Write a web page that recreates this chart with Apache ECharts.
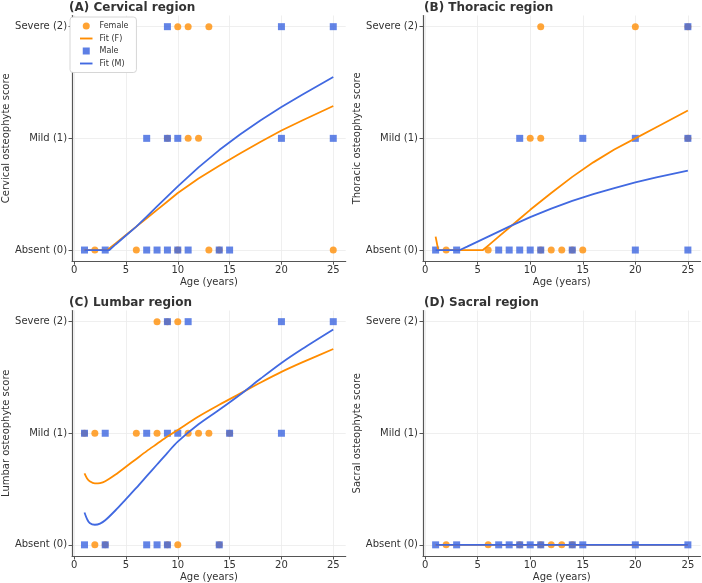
<!DOCTYPE html>
<html>
<head>
<meta charset="utf-8">
<script src="https://cdn.jsdelivr.net/npm/echarts@6/dist/echarts.min.js"></script>
<style>
html,body{margin:0;padding:0;background:#fff;}
#chart{width:702px;height:583px;}
</style>
</head>
<body>
<div id="chart"></div>
<script>
// tick labels
var xTicks=[0,5,10,15,20,25];
var yTicks=[0,1,2];
var yTickLabels=['Absent (0)','Mild (1)','Severe (2)'];
var panelTitles=['(A) Cervical region','(B) Thoracic region','(C) Lumbar region','(D) Sacral region'];
var yNames=['Cervical osteophyte score','Thoracic osteophyte score','Lumbar osteophyte score','Sacral osteophyte score'];

// observed scores [age, score]
var cervF=[[10,2],[11,2],[13,2],[11,1],[12,1],[9,1],[2,0],[6,0],[13,0],[25,0],[10,0],[14,0]];
var cervM=[[9,2],[20,2],[25,2],[7,1],[9,1],[10,1],[20,1],[25,1],[1,0],[3,0],[7,0],[8,0],[9,0],[10,0],[11,0],[14,0],[15,0]];
var thorF=[[11,2],[20,2],[25,2],[10,1],[11,1],[25,1],[2,0],[6,0],[11,0],[12,0],[13,0],[14,0],[15,0]];
var thorM=[[25,2],[9,1],[15,1],[20,1],[25,1],[1,0],[3,0],[7,0],[8,0],[9,0],[10,0],[11,0],[14,0],[20,0],[25,0]];
var lumbF=[[8,2],[10,2],[9,2],[1,1],[2,1],[6,1],[8,1],[11,1],[12,1],[13,1],[15,1],[2,0],[3,0],[9,0],[10,0],[14,0]];
var lumbM=[[9,2],[11,2],[20,2],[25,2],[1,1],[3,1],[7,1],[9,1],[10,1],[15,1],[20,1],[1,0],[3,0],[7,0],[8,0],[9,0],[14,0]];
var sacrF=[[2,0],[6,0],[9,0],[11,0],[12,0],[13,0],[14,0]];
var sacrM=[[1,0],[3,0],[7,0],[8,0],[9,0],[10,0],[11,0],[14,0],[15,0],[20,0],[25,0]];

// fitted curves
var cervFitFAge=[1,2,3,3.2,4,5,6,7,8,9,10,12,14,16,18,20,22,25];
var cervFitF=[0,0,0,0,0.06,0.135,0.21,0.285,0.36,0.435,0.51,0.64,0.755,0.865,0.97,1.07,1.16,1.29];
var cervFitMAge=[1,2,3,3.4,4,5,6,7,8,9,10,12,14,16,18,20,22,25];
var cervFitM=[0,0,0,0,0.05,0.13,0.21,0.3,0.39,0.48,0.57,0.74,0.895,1.035,1.163,1.28,1.39,1.55];
var thorFitFAge=[1,1.25,2,3,4,5,5.5,6,7,8,9,10,12,14,16,18,20,22,25];
var thorFitF=[0.12,0,0,0,0,0,0,0.04,0.12,0.2,0.28,0.36,0.51,0.655,0.785,0.9,1.0,1.1,1.25];
var thorFitMAge=[1,2,3,3.3,4,5,6,8,10,12,14,16,18,20,22,25];
var thorFitM=[0,0,0,0,0.03,0.075,0.12,0.21,0.295,0.37,0.44,0.5,0.555,0.605,0.65,0.71];
var lumbFitAge=[1,1.25,1.5,2,2.5,3,4,5,6,7,8,9,10,12,14,16,18,20,22,25];
var lumbFitF=[0.64,0.595,0.57,0.55,0.553,0.57,0.63,0.7,0.77,0.84,0.905,0.97,1.03,1.15,1.255,1.355,1.455,1.55,1.635,1.755];
var lumbFitM=[0.29,0.23,0.195,0.18,0.19,0.22,0.31,0.41,0.51,0.615,0.72,0.825,0.925,1.08,1.21,1.345,1.49,1.63,1.755,1.93];
var sacrFitAge=[1,25];
var sacrFitF=[0,0];
var sacrFitM=[0,0];

var ORANGE='#FF8C00', BLUE='#4169E1';
var FONT='DejaVu Sans';

function pairs(ages,vals){
	var out=[];
	for(var i=0;i<ages.length;i++) out.push([ages[i],vals[i]]);
	return out;
}

var grids=[
	{left:68,top:15.5,width:277.7,height:245.7},
	{left:423,top:15.5,width:277.5,height:245.7},
	{left:68,top:310.5,width:277.7,height:245.7},
	{left:423,top:310.5,width:277.5,height:245.7}
];
var panels=[
	{f:cervF,m:cervM,ff:pairs(cervFitFAge,cervFitF),fm:pairs(cervFitMAge,cervFitM),smooth:false},
	{f:thorF,m:thorM,ff:pairs(thorFitFAge,thorFitF),fm:pairs(thorFitMAge,thorFitM),smooth:false},
	{f:lumbF,m:lumbM,ff:pairs(lumbFitAge,lumbFitF),fm:pairs(lumbFitAge,lumbFitM),smooth:0.3},
	{f:sacrF,m:sacrM,ff:pairs(sacrFitAge,sacrFitF),fm:pairs(sacrFitAge,sacrFitM),smooth:false}
];

var xAxes=[],yAxes=[],series=[],titles=[];
for(var i=0;i<4;i++){
	titles.push({text:panelTitles[i],left:grids[i].left+1,top:grids[i].top-14,padding:0,
		textStyle:{fontFamily:FONT,fontSize:12,fontWeight:'bold',color:'#333'}});
	xAxes.push({
		gridIndex:i,type:'value',min:-0.2,max:26.2,
		name:'Age (years)',nameLocation:'middle',nameGap:16,
		nameTextStyle:{fontFamily:FONT,fontSize:10,color:'#333'},
		axisLine:{show:true,onZero:false,lineStyle:{color:'#555',width:1.2}},
		axisTick:{show:true,length:3.5,customValues:xTicks,lineStyle:{color:'#555'}},
		axisLabel:{customValues:xTicks,fontFamily:FONT,fontSize:10,color:'#333',margin:4},
		splitLine:{show:true,lineStyle:{color:'#ebebeb',width:0.8}}
	});
	yAxes.push({
		gridIndex:i,type:'value',min:-0.1,max:2.1,
		name:yNames[i],nameLocation:'middle',nameGap:57,
		nameTextStyle:{fontFamily:FONT,fontSize:10,color:'#333'},
		axisLine:{show:true,onZero:false,lineStyle:{color:'#555',width:1.2}},
		axisTick:{show:true,length:3.5,customValues:yTicks,lineStyle:{color:'#555'}},
		axisLabel:{customValues:yTicks,fontFamily:FONT,fontSize:10,color:'#333',margin:5,
			formatter:function(v){return yTickLabels[Math.round(v)];}},
		splitLine:{show:true,lineStyle:{color:'#ebebeb',width:0.8}}
	});
	var p=panels[i];
	series.push({name:'Female',type:'scatter',xAxisIndex:i,yAxisIndex:i,data:p.f,symbol:'circle',symbolSize:7,z:2,
		itemStyle:{color:ORANGE,opacity:0.78}});
	series.push({name:'Fit (F)',type:'line',xAxisIndex:i,yAxisIndex:i,data:p.ff,symbol:'none',smooth:p.smooth,z:4,
		lineStyle:{color:ORANGE,width:1.8},itemStyle:{color:ORANGE}});
	series.push({name:'Male',type:'scatter',xAxisIndex:i,yAxisIndex:i,data:p.m,symbol:'rect',symbolSize:7,z:3,
		itemStyle:{color:BLUE,opacity:0.82}});
	series.push({name:'Fit (M)',type:'line',xAxisIndex:i,yAxisIndex:i,data:p.fm,symbol:'none',smooth:p.smooth,z:5,
		lineStyle:{color:BLUE,width:1.8},itemStyle:{color:BLUE}});
}

var lineIcon='path://M0,0L12,0L12,1.8L0,1.8Z';
var squareIcon='path://M0,0L6,0L6,6L0,6Z';

var chart=echarts.init(document.getElementById('chart'),null,{renderer:'canvas'});
chart.setOption({
	animation:false,
	backgroundColor:'#fff',
	title:titles,
	grid:grids,
	xAxis:xAxes,
	yAxis:yAxes,
	legend:{
		data:[
			{name:'Female',icon:'circle',itemStyle:{color:ORANGE,opacity:0.8}},
			{name:'Fit (F)',icon:lineIcon,itemStyle:{color:ORANGE}},
			{name:'Male',icon:squareIcon,itemStyle:{color:BLUE,opacity:0.85}},
			{name:'Fit (M)',icon:lineIcon,itemStyle:{color:BLUE}}
		],
		orient:'vertical',left:70,top:17,
		padding:[5,8,5,10],itemWidth:12.5,itemHeight:7,itemGap:4.5,
		textStyle:{fontFamily:FONT,fontSize:8,color:'#333',padding:[0,0,0,2]},
		backgroundColor:'#fff',borderColor:'#ccc',borderWidth:0.8,borderRadius:3,z:10
	},
	series:series
});
</script>
</body>
</html>
